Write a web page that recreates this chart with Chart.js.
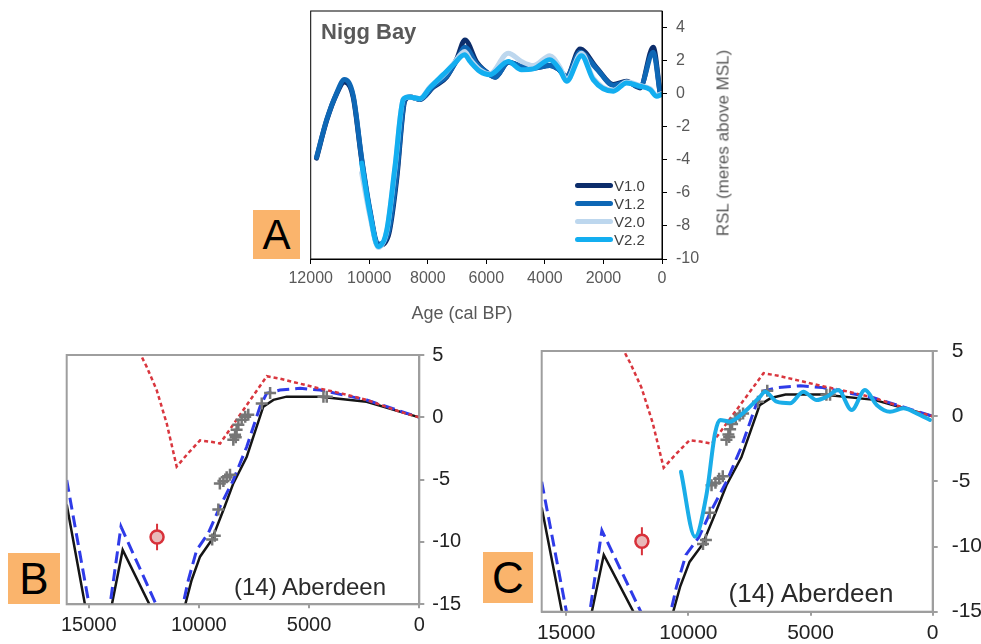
<!DOCTYPE html>
<html><head><meta charset="utf-8">
<script src="https://cdn.jsdelivr.net/npm/chart.js@4.4.1/dist/chart.umd.min.js"></script>
<style>
html,body{margin:0;padding:0;background:#fff;}
body{width:981px;height:644px;position:relative;overflow:hidden;font-family:"Liberation Sans",Arial,sans-serif;}
canvas{position:absolute;}
.box{position:absolute;background:#fab46c;color:#000;display:flex;align-items:center;justify-content:center;line-height:1;}
.txt{position:absolute;white-space:nowrap;line-height:1;}
.leg{position:absolute;display:flex;align-items:center;font-size:15px;color:#404040;line-height:1;}
.leg span.sw{display:inline-block;width:38px;height:5px;border-radius:3px;margin-right:1px;}
</style></head><body>
<canvas id="cA" width="540" height="380" style="left:230px;top:-30px"></canvas>
<canvas id="cB" width="480" height="324" style="left:0px;top:320px"></canvas>
<canvas id="cC" width="491" height="324" style="left:490px;top:320px"></canvas>

<div class="txt" style="left:321px;top:21px;font-size:22px;font-weight:bold;color:#595959">Nigg Bay</div>
<div class="txt" style="left:462px;top:313px;transform:translate(-50%,-50%);font-size:18px;color:#595959">Age (cal BP)</div>
<div class="txt" style="left:723px;top:143px;transform:translate(-50%,-50%) rotate(-90deg);font-size:17px;color:#595959">RSL (meres above MSL)</div>
<div class="txt" style="left:310px;top:587px;transform:translate(-50%,-50%);font-size:24px;color:#2a2a2a">(14) Aberdeen</div>
<div class="txt" style="left:811px;top:593px;transform:translate(-50%,-50%);font-size:26px;color:#2a2a2a">(14) Aberdeen</div>
<div class="box" style="left:253px;top:210px;width:47px;height:49px;font-size:42px">A</div>
<div class="box" style="left:8px;top:553px;width:52px;height:51px;font-size:44px">B</div>
<div class="box" style="left:483px;top:552px;width:50px;height:51px;font-size:44px">C</div>
<div id="legA"></div>

<script>
// ---------- Panel A: Nigg Bay, model versions ----------
const seriesA = ['V1.0', 'V1.2', 'V2.0', 'V2.2'];
const agesV1 = [11800, 11450, 11110, 10850, 10550, 10260, 9980, 9700, 9350, 9070, 8780, 8610, 8270, 7810, 7360, 7010, 6730, 6330, 5880, 5700, 5250, 4740, 4400, 3830, 3550, 3260, 2800, 2230, 1660, 1210, 750, 300, 70];
const rslV10 = [-3.9, -1.6, 0.0, 0.7, -0.2, -4.0, -7.1, -9.2, -8.6, -5.3, -0.4, -0.2, -0.35, 0.4, 1.0, 2.1, 3.25, 1.9, 1.15, 1.0, 1.9, 1.6, 1.55, 1.7, 1.5, 1.05, 2.7, 1.55, 0.55, 0.75, 0.35, 2.8, 0.1];
const rslV12 = [-3.85, -1.55, 0.05, 0.85, -0.1, -3.9, -7.0, -9.1, -8.4, -5.0, -0.35, -0.2, -0.35, 0.45, 1.05, 2.0, 2.8, 1.8, 1.15, 1.0, 1.9, 1.6, 1.55, 1.7, 1.5, 1.05, 2.5, 1.5, 0.5, 0.7, 0.4, 2.5, 0.1];
const agesV2 = [10260, 9980, 9690, 9400, 9120, 8840, 8670, 8270, 7930, 7475, 7130, 6740, 6560, 6220, 5880, 5250, 4800, 4400, 3830, 3490, 3260, 2750, 2350, 1660, 1210, 750, 410, 180, 10];
const rslV20 = [-4.8, -7.4, -9.3, -8.3, -4.5, -0.35, -0.2, -0.3, 0.4, 1.1, 1.8, 2.55, 2.1, 1.45, 1.2, 2.45, 1.95, 1.7, 2.3, 1.6, 0.85, 2.45, 0.95, 0.2, 0.7, 0.5, 0.3, -0.1, 0.0];
const rslV22 = [-4.2, -7.2, -9.25, -8.25, -4.4, -0.35, -0.2, -0.3, 0.35, 1.15, 1.75, 2.35, 1.95, 1.35, 1.15, 1.95, 1.45, 1.5, 2.05, 1.45, 0.75, 2.3, 0.85, 0.15, 0.65, 0.45, 0.25, -0.15, -0.05];
const ageTicksA = [0, 2000, 4000, 6000, 8000, 10000, 12000];
const rslTicksA = [-10, -8, -6, -4, -2, 0, 2, 4];

// ---------- Panels B and C: Aberdeen (14) ----------
const blackAge = [16000, 15070, 14500, 14060, 13460, 11970, 11300, 10765, 10330, 9950, 9420, 8890, 8440, 7830, 7080, 6620, 6020, 4500, 2390, 0];
const blackRsl = [-7.0, -16, null, -16, -10.64, -16, null, -16, -13.05, -11.18, -9.84, -7.43, -5.3, -3.16, 0.85, 1.4, 1.66, 1.66, 1.25, 0];
const blueAge = [16000, 14885, 14400, 14110, 13537, 11690, 11200, 10840, 10480, 10100, 9575, 9044, 8440, 7830, 7230, 6925, 6320, 5410, 4500, 2390, 0];
const blueRsl = [-5.03, -16, null, -16, -8.77, -16, null, -16, -13.05, -10.64, -9.3, -7.17, -5.03, -2.36, 0.85, 1.93, 2.19, 2.33, 2.19, 1.39, 0];
const redAge = [12720, 12370, 11920, 11460, 11010, 10500, 9950, 9500, 9040, 6920, 6320, 5410, 4500, 3500, 2390, 880, 0];
const redRsl = [5.3, 4.05, 2.2, -0.5, -3.95, -2.9, -1.85, -1.95, -2.1, 3.3, 3.1, 2.7, 2.3, 1.9, 1.4, 0.45, 0];
const crossAge = [7760, 7900, 8060, 8210, 8290, 8360, 8440, 8330, 8590, 8740, 8890, 9050, 9120, 9280, 9400, 7150, 6770, 4350, 4200];
const crossRsl = [0.2, 0.05, -0.2, -0.6, -1.0, -1.4, -1.8, -1.6, -4.6, -4.8, -5.1, -5.3, -7.4, -9.5, -9.8, 1.1, 1.95, 1.65, 1.65];
const circleAge = [11900];
const circleRsl = [-9.6];
const circleErr = [1.07];
const niggAge = [10300, 9727, 9248, 8908, 8704, 8295, 7885, 7476, 7067, 6862, 6384, 5839, 5295, 4747, 4338, 3863, 3315, 2770, 2292, 1747, 1203, 655, 110];
const niggRsl = [-4.26, -9.25, -5.92, -1.32, -0.29, -0.42, 0.04, 0.73, 1.49, 1.88, 1.11, 0.99, 1.88, 1.24, 1.49, 2.0, 0.47, 2.0, 0.86, 0.34, 0.6, 0.22, -0.29];
const ageTicksBC = [0, 5000, 10000, 15000];
const rslTicksBC = [-15, -10, -5, 0, 5];

const FONT = '"Liberation Sans", Arial, sans-serif';
Chart.defaults.font.family = FONT;
Chart.defaults.animation = false;

const xy = (xs, ys) => xs.map((x, i) => ({x: x, y: ys[i]}));
const setTicks = arr => s => { s.ticks = arr.map(v => ({value: v})); };

const framePlugin = {
  id: 'frame',
  afterDatasetsDraw(chart, args, opts) {
    const {ctx, chartArea: a} = chart;
    ctx.save();
    ctx.strokeStyle = opts.color;
    ctx.lineWidth = opts.width;
    ctx.strokeRect(a.left, a.top, a.right - a.left, a.bottom - a.top);
    ctx.restore();
  }
};

function axes(o) {
  return {
    x: {
      type: 'linear', reverse: true, min: 0, max: o.xMax,
      afterBuildTicks: setTicks(o.xTicks),
      ticks: {callback: v => String(v), font: {size: o.font}, color: o.tickColor, padding: o.xPad, maxRotation: 0, autoSkip: false},
      grid: {drawOnChartArea: false, drawTicks: true, tickLength: o.xTl, color: o.axisColor, lineWidth: o.axisWidth},
      border: {color: o.axisColor, width: o.axisWidth},
      afterFit: s => { s.height = o.xH; }
    },
    y: {
      type: 'linear', position: 'right', min: o.yMin, max: o.yMax,
      afterBuildTicks: setTicks(o.yTicks),
      ticks: {callback: v => String(v), font: {size: o.font}, color: o.tickColor, padding: o.yPad},
      grid: {drawOnChartArea: false, drawTicks: true, tickLength: 5, color: o.axisColor, lineWidth: o.axisWidth},
      border: {color: o.axisColor, width: o.axisWidth},
      afterFit: s => { s.width = o.yW; }
    }
  };
}

const commonPlugins = (frameColor, frameWidth) => ({
  legend: {display: false}, tooltip: {enabled: false},
  frame: {color: frameColor, width: frameWidth}
});

// ---------- Chart A ----------
const colorsA = ['#0c2d6b', '#0e67b5', '#bdd7ee', '#13aef0'];
const dataA = [xy(agesV1, rslV10), xy(agesV1, rslV12), xy(agesV2, rslV20), xy(agesV2, rslV22)];
const chartA = new Chart(document.getElementById('cA'), {
  type: 'line',
  data: {
    datasets: seriesA.map((name, i) => ({
      label: name, data: dataA[i], borderColor: colorsA[i], backgroundColor: colorsA[i],
      borderWidth: 5, pointRadius: 0, tension: 0.4, cubicInterpolationMode: 'monotone',
      borderCapStyle: 'round', borderJoinStyle: 'round', order: 4 - i, fill: false
    }))
  },
  options: {
    responsive: false, devicePixelRatio: 1, events: [],
    layout: {padding: {left: 80.7, top: 41, right: 0, bottom: 0}},
    scales: axes({xMax: 12000, xTicks: ageTicksA, yMin: -10, yMax: 5, yTicks: rslTicksA, font: 16,
      tickColor: '#595959', xPad: 5, yPad: 9, xTl: 5, axisColor: '#000', axisWidth: 1, xH: 91, yW: 108}),
    plugins: commonPlugins('#000', 1)
  },
  plugins: [framePlugin]
});

// HTML legend built from chart A datasets
(function () {
  const host = document.getElementById('legA');
  chartA.data.datasets.forEach((ds, i) => {
    const row = document.createElement('div');
    row.className = 'leg';
    row.style.left = '575px';
    row.style.top = (177 + i * 18) + 'px';
    row.style.height = '16px';
    const sw = document.createElement('span');
    sw.className = 'sw';
    sw.style.background = ds.borderColor;
    row.appendChild(sw);
    row.appendChild(document.createTextNode(ds.label));
    host.appendChild(row);
  });
})();

// ---------- Charts B and C ----------
function aberdeenDatasets(withNigg) {
  const ds = [
    {label: 'model solid', data: xy(blackAge, blackRsl), borderColor: '#151515', borderWidth: 2.5, pointRadius: 0, tension: 0, spanGaps: false, order: 6},
    {label: 'model dashed', data: xy(blueAge, blueRsl), borderColor: '#2f3be8', borderWidth: 3, borderDash: [12, 6], pointRadius: 0, tension: 0, spanGaps: false, order: 5},
    {label: 'model dotted', data: xy(redAge, redRsl), borderColor: '#d9363e', borderWidth: 2.5, borderDash: [4, 3], pointRadius: 0, tension: 0, order: 4},
    {label: 'index points', data: xy(crossAge, crossRsl), showLine: false, pointStyle: 'cross', pointRadius: 6, pointBorderWidth: 2.5, pointBorderColor: '#767676', order: 3},
    {label: 'error', data: [{x: circleAge[0], y: circleRsl[0] + circleErr[0]}, {x: circleAge[0], y: circleRsl[0] - circleErr[0]}], borderColor: '#d8313a', borderWidth: 2, pointRadius: 0, order: 2},
    {label: 'limiting point', data: xy(circleAge, circleRsl), showLine: false, pointStyle: 'circle', pointRadius: 6.5, pointBorderWidth: 2.5, pointBorderColor: '#d8313a', pointBackgroundColor: '#e9b9b9', order: 1}
  ];
  if (withNigg) {
    ds.push({label: 'V2.2', data: xy(niggAge, niggRsl), borderColor: '#1aade8', borderWidth: 4, pointRadius: 0, tension: 0.4, cubicInterpolationMode: 'monotone', borderCapStyle: 'round', order: 0});
  }
  return ds;
}

new Chart(document.getElementById('cB'), {
  type: 'line',
  data: {datasets: aberdeenDatasets(false)},
  options: {
    responsive: false, devicePixelRatio: 1, events: [],
    layout: {padding: {left: 66.7, top: 35, right: 0, bottom: 0}},
    scales: axes({xMax: 16000, xTicks: ageTicksBC, yMin: -15, yMax: 5, yTicks: rslTicksBC, font: 20,
      tickColor: '#222', xPad: 5, yPad: 8, xTl: 4, axisColor: '#9e9e9e', axisWidth: 2, xH: 39.7, yW: 60.7}),
    plugins: commonPlugins('#9e9e9e', 2)
  },
  plugins: [framePlugin]
});

new Chart(document.getElementById('cC'), {
  type: 'line',
  data: {datasets: aberdeenDatasets(true)},
  options: {
    responsive: false, devicePixelRatio: 1, events: [],
    layout: {padding: {left: 51.7, top: 31, right: 0, bottom: 0}},
    scales: axes({xMax: 16000, xTicks: ageTicksBC, yMin: -15, yMax: 5, yTicks: rslTicksBC, font: 21,
      tickColor: '#222', xPad: 4.7, yPad: 14, xTl: 4, axisColor: '#9e9e9e', axisWidth: 2, xH: 32.3, yW: 48.3}),
    plugins: commonPlugins('#9e9e9e', 2)
  },
  plugins: [framePlugin]
});
</script>
</body></html>
